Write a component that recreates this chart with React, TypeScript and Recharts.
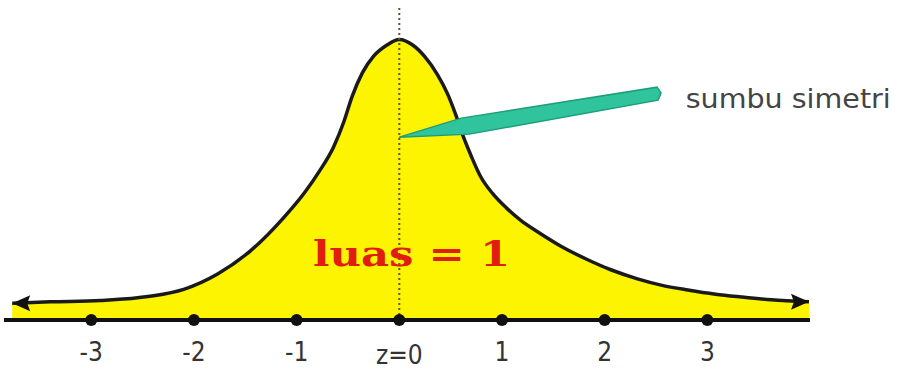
import React from "react";
import {
  ComposedChart,
  Area,
  XAxis,
  YAxis,
  ReferenceLine,
  ReferenceDot,
} from "recharts";

// curve: z position and height above the axis line
const curveZ = [
  -3.77, -3.4, -2.91, -2.43, -2.1, -1.77, -1.45, -1.13, -0.92, -0.77, -0.64,
  -0.54, -0.46, -0.36, -0.25, -0.12, 0, 0.13, 0.25, 0.37, 0.47, 0.55, 0.62,
  0.7, 0.79, 0.91, 1.04, 1.18, 1.35, 1.57, 1.84, 2.06, 2.32, 2.55, 2.81, 3.08,
  3.33, 3.62, 3.99,
];
const curveY = [
  0.024, 0.026, 0.028, 0.034, 0.044, 0.066, 0.099, 0.146, 0.183, 0.215, 0.248,
  0.284, 0.32, 0.354, 0.378, 0.394, 0.402, 0.394, 0.377, 0.352, 0.324, 0.294,
  0.264, 0.235, 0.206, 0.181, 0.161, 0.143, 0.126, 0.106, 0.086, 0.072, 0.059,
  0.05, 0.043, 0.037, 0.033, 0.029, 0.026,
];

const tickZ = [-3, -2, -1, 0, 1, 2, 3];
const tickLabels = ["-3", "-2", "-1", "z=0", "1", "2", "3"];

const pointerFrom = { z: 0, y: 0.262 };
const pointerTo = { z: 2.53, y: 0.325 };

const areaText = "luas = 1";
const areaTextAt = { z: 0.12, y: 0.077 };
const axisText = "sumbu simetri";
const axisTextAt = { z: 2.79, y: 0.304 };

const data = curveZ.map((z, i) => ({ z, y: curveY[i] }));

const Arrowhead = (props: any) => {
  const { cx, cy, index } = props;
  if (index === 0) {
    return (
      <path
        key="a0"
        d={`M${cx},${cy} L${cx + 18},${cy - 8} L${cx + 15},${cy} L${cx + 18},${cy + 8} Z`}
        fill="#111"
      />
    );
  }
  if (index === data.length - 1) {
    return (
      <path
        key="a1"
        d={`M${cx},${cy} L${cx - 18},${cy - 8} L${cx - 15},${cy} L${cx - 18},${cy + 8} Z`}
        fill="#111"
      />
    );
  }
  return <g key={`d${index}`} />;
};

const ZTick = (props: any) => {
  const { x, y, payload } = props;
  const i = tickZ.indexOf(payload.value);
  const label = tickLabels[i];
  return (
    <text
      x={x}
      y={y + (label === "z=0" ? 44 : 41)}
      textAnchor="middle"
      fill="#333"
      fontSize={26}
      fontFamily="DejaVu Sans Condensed, DejaVu Sans"
    >
      {label}
    </text>
  );
};

// the green pointer from the symmetry line out to its caption
const Pointer = (props: any) => {
  const { x1, y1, x2, y2 } = props;
  const pts = [
    [x1, y1],
    [x1 + 62, y1 - 19],
    [x2 - 2, y2 - 6],
    [x2 + 2, y2],
    [x2 - 1, y2 + 7],
    [x1 + 70, y1 - 3],
  ]
    .map((p) => p.join(","))
    .join(" ");
  return <polygon points={pts} fill="#30c49c" stroke="#1c9e7a" strokeWidth={1.5} />;
};

export default function App() {
  return (
    <div style={{ position: "absolute", left: 0, top: 0, background: "#fff" }}>
      <ComposedChart
        width={901}
        height={370}
        data={data}
        margin={{ top: 8, right: 91, bottom: 0, left: 4 }}
      >
        <XAxis
          dataKey="z"
          type="number"
          domain={[-3.85, 4]}
          ticks={tickZ}
          tick={<ZTick />}
          tickLine={false}
          tickSize={0}
          tickMargin={0}
          height={50}
          axisLine={{ stroke: "#111", strokeWidth: 4 }}
          allowDataOverflow
        />
        <YAxis hide type="number" domain={[0, 0.447]} allowDataOverflow />
        <Area
          type="monotone"
          dataKey="y"
          fill="#fcf400"
          fillOpacity={1}
          stroke="#1a1a1a"
          strokeWidth={3.5}
          dot={<Arrowhead />}
          activeDot={false}
          isAnimationActive={false}
        />
        <ReferenceLine
          x={0}
          stroke="#5b5328"
          strokeWidth={2}
          strokeDasharray="2 3"
        />
        {tickZ.map((z) => (
          <ReferenceDot key={z} x={z} y={0} r={6} fill="#111" stroke="none" />
        ))}
        <ReferenceLine
          segment={[
            { x: pointerFrom.z, y: pointerFrom.y },
            { x: pointerTo.z, y: pointerTo.y },
          ]}
          shape={<Pointer />}
        />
        <ReferenceDot
          x={areaTextAt.z}
          y={areaTextAt.y}
          r={0}
          shape={(p: any) => (
            <text
              x={p.cx}
              y={p.cy}
              textAnchor="middle"
              fill="#e01d0e"
              fontSize={36}
              fontWeight="bold"
              fontFamily="DejaVu Serif"
              textLength={197}
              lengthAdjust="spacingAndGlyphs"
            >
              {areaText}
            </text>
          )}
        />
        <ReferenceDot
          x={axisTextAt.z}
          y={axisTextAt.y}
          r={0}
          shape={(p: any) => (
            <text
              x={p.cx}
              y={p.cy}
              fill="#444"
              fontSize={26}
              fontFamily="DejaVu Sans"
              textLength={205}
              lengthAdjust="spacingAndGlyphs"
            >
              {axisText}
            </text>
          )}
        />
      </ComposedChart>
    </div>
  );
}
